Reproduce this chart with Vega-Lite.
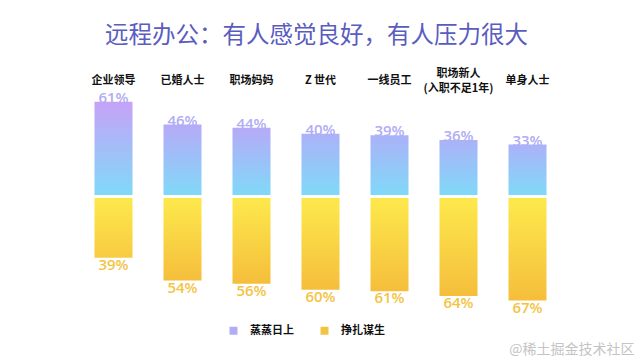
{
  "$schema": "https://vega.github.io/schema/vega-lite/v6.json",
  "width": 483,
  "height": 220,
  "autosize": {"type": "none"},
  "padding": {"left": 79, "top": 92, "right": 78, "bottom": 48},
  "background": "white",
  "config": {"view": {"stroke": null}, "font": "Noto Sans CJK SC"},
  "title": {"text": "远程办公：有人感觉良好，有人压力很大", "fontSize": 23.5, "fontWeight": "normal", "color": "#5a5cbf", "font": "Noto Sans CJK SC", "anchor": "middle", "offset": 20, "dx": -4},
  "data": {"values": [
    {"cat": "企业领导", "up": 0.61, "down": 0.39},
    {"cat": "已婚人士", "up": 0.46, "down": 0.54},
    {"cat": "职场妈妈", "up": 0.44, "down": 0.56},
    {"cat": "Z 世代", "up": 0.40, "down": 0.60},
    {"cat": "一线员工", "up": 0.39, "down": 0.61},
    {"cat": "职场新人(入职不足1年)", "up": 0.36, "down": 0.64},
    {"cat": "单身人士", "up": 0.33, "down": 0.67}
  ]},
  "resolve": {"scale": {"y": "independent"}},
  "layer": [
    {
      "layer": [
        {
          "mark": {"type": "bar", "yOffset": -1, "y2Offset": -1},
          "encoding": {
            "x": {"field": "cat", "type": "nominal", "sort": null,
              "scale": {"domain": ["企业领导", "已婚人士", "职场妈妈", "Z 世代", "一线员工", "职场新人(入职不足1年)", "单身人士"], "paddingInner": 0.449, "paddingOuter": 0.2245},
              "axis": {"orient": "top", "title": null, "domain": false, "ticks": false, "tickSize": 0, "labelAngle": 0,
                "labelFont": "Noto Sans CJK SC", "labelFontWeight": "bold", "labelFontSize": 11, "labelColor": "#111111",
                "labelPadding": {"condition": {"test": "datum.value == '职场新人(入职不足1年)'", "value": 19}, "value": 12},
                "labelBaseline": "middle", "labelLineHeight": 15, "labelLimit": 200,
                "labelExpr": "split(replace(datum.label, '(', '|('), '|')"}},
            "y": {"field": "up", "type": "quantitative", "scale": {"domain": [-0.7582, 0.6797], "nice": false, "zero": false}, "axis": null},
            "fill": {
              "condition": [
                {"test": "datum.up >= 0.5", "value": {"gradient": "linear", "x1": 0, "y1": 0, "x2": 0, "y2": 1,
                  "stops": [{"offset": 0, "color": "#c6a2f7"}, {"offset": 1, "color": "#80d9f8"}]}},
                {"test": "datum.up >= 0.42", "value": {"gradient": "linear", "x1": 0, "y1": 0, "x2": 0, "y2": 1,
                  "stops": [{"offset": 0, "color": "#b6aaf7"}, {"offset": 1, "color": "#80d9f8"}]}}
              ],
              "value": {"gradient": "linear", "x1": 0, "y1": 0, "x2": 0, "y2": 1,
                "stops": [{"offset": 0, "color": "#abb2f8"}, {"offset": 1, "color": "#80d9f8"}]}
            }
          }
        },
        {
          "mark": {"type": "text", "baseline": "alphabetic", "yOffset": -1, "dy": 1, "fontSize": 15, "font": "Open Sans", "fontWeight": 600},
          "encoding": {
            "x": {"field": "cat", "type": "nominal", "sort": null},
            "y": {"field": "up", "type": "quantitative", "scale": {"domain": [-0.7582, 0.6797], "nice": false, "zero": false}, "axis": null},
            "text": {"field": "up", "type": "quantitative", "format": ".0%"},
            "color": {"datum": "蒸蒸日上", "type": "nominal",
              "scale": {"domain": ["蒸蒸日上", "挣扎谋生"], "range": ["#b0adf5", "#f3c444"]},
              "legend": {"title": null, "orient": "none", "direction": "horizontal", "legendX": 149, "legendY": 233,
                "symbolType": "square", "symbolSize": 64, "symbolStrokeWidth": 0, "symbolOpacity": 1,
                "labelFont": "Noto Sans CJK SC", "labelFontWeight": "bold", "labelFontSize": 11, "labelColor": "#111111",
                "labelOffset": 11, "columnPadding": 25, "padding": 0}}
          }
        }
      ]
    },
    {
      "layer": [
        {
          "mark": {"type": "bar", "yOffset": 2, "y2Offset": 2},
          "encoding": {
            "x": {"field": "cat", "type": "nominal", "sort": null},
            "y": {"field": "down", "type": "quantitative", "scale": {"domain": [-0.6797, 0.7582], "reverse": true, "nice": false, "zero": false}, "axis": null},
            "fill": {
              "condition": {"test": "datum.down < 0.5", "value": {"gradient": "linear", "x1": 0, "y1": 0, "x2": 0, "y2": 1,
                "stops": [{"offset": 0, "color": "#fde94c"}, {"offset": 1, "color": "#f8cb42"}]}},
              "value": {"gradient": "linear", "x1": 0, "y1": 0, "x2": 0, "y2": 1,
                "stops": [{"offset": 0, "color": "#fde94c"}, {"offset": 1, "color": "#f5be3c"}]}
            }
          }
        },
        {
          "mark": {"type": "text", "baseline": "top", "yOffset": 2, "dy": 0, "fontSize": 15, "font": "Open Sans", "fontWeight": 600},
          "encoding": {
            "x": {"field": "cat", "type": "nominal", "sort": null},
            "y": {"field": "down", "type": "quantitative", "scale": {"domain": [-0.6797, 0.7582], "reverse": true, "nice": false, "zero": false}, "axis": null},
            "text": {"field": "down", "type": "quantitative", "format": ".0%"},
            "color": {"datum": "挣扎谋生", "type": "nominal"}
          }
        },
        {
          "data": {"values": [{"w": "@稀土掘金技术社区"}]},
          "mark": {"type": "text", "align": "right", "baseline": "middle", "fontSize": 14, "color": "#c4c4c4", "dx": 107, "font": "Noto Sans CJK SC"},
          "encoding": {
            "x": {"datum": "单身人士", "type": "nominal"},
            "y": {"datum": 1.0065, "type": "quantitative", "scale": {"domain": [-0.6797, 0.7582], "reverse": true, "nice": false, "zero": false}, "axis": null},
            "text": {"field": "w", "type": "nominal"}
          }
        }
      ]
    }
  ]
}
